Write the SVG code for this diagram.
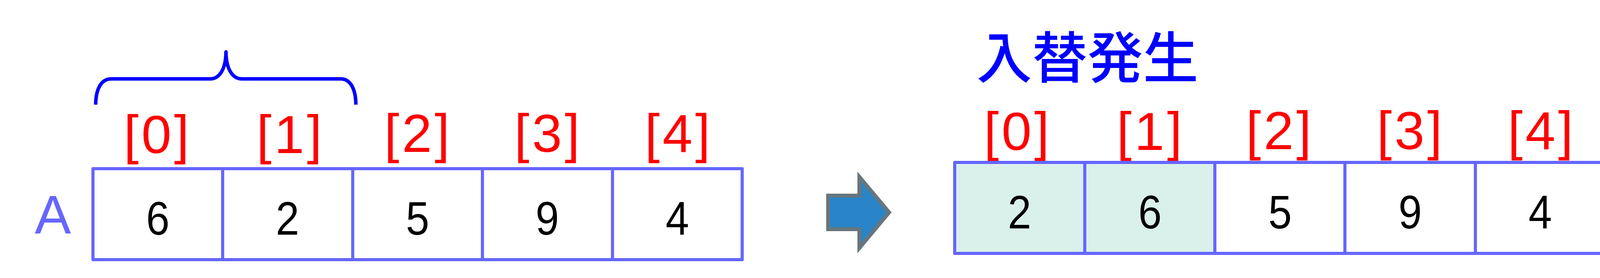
<svg xmlns="http://www.w3.org/2000/svg" width="4118" height="712" viewBox="0 0 4118 712">
<style>
.box{fill:none;stroke:#6666FF;stroke-width:8;stroke-linejoin:round}
.div{stroke:#6666FF;stroke-width:8}
.idx{font-family:"Liberation Sans",Arial,sans-serif;font-size:138px;fill:#FF0000;text-anchor:middle;letter-spacing:7px}
.num{font-family:"Liberation Sans",Arial,sans-serif;font-size:121px;fill:#000000;text-anchor:middle}
.mint{fill:#DAF0EA}
</style>
<rect width="4118" height="712" fill="#FFFFFF"/>
<g id="brace">
<path d="M245,268 C245,230 258,202 285,202 L538,202 C560,202 578,180 578.5,133 C579,180 597,202 619,202 L872,202 C898,202 911,230 911,268" fill="none" stroke="#0000FF" stroke-width="9" stroke-linejoin="round"/>
</g>
<g id="labelA">
<text x="89" y="598" font-family="'Liberation Sans',Arial,sans-serif" font-size="139" fill="#6666FF">A</text>
</g>
<g id="left-indices">
<text class="idx" x="404" y="392">[0]</text>
<text class="idx" x="744" y="392">[1]</text>
<text class="idx" x="1071" y="389">[2]</text>
<text class="idx" x="1404" y="389">[3]</text>
<text class="idx" x="1738" y="389">[4]</text>
</g>
<g id="left-array">
<rect class="box" x="238" y="432" width="1662" height="233"/>
<line class="div" x1="570" y1="432" x2="570" y2="665"/>
<line class="div" x1="903" y1="432" x2="903" y2="665"/>
<line class="div" x1="1235" y1="432" x2="1235" y2="665"/>
<line class="div" x1="1568" y1="432" x2="1568" y2="665"/>
<text class="num" x="404" y="601" textLength="60" lengthAdjust="spacingAndGlyphs">6</text>
<text class="num" x="736" y="601" textLength="60" lengthAdjust="spacingAndGlyphs">2</text>
<text class="num" x="1069" y="601" textLength="60" lengthAdjust="spacingAndGlyphs">5</text>
<text class="num" x="1401" y="601" textLength="60" lengthAdjust="spacingAndGlyphs">9</text>
<text class="num" x="1734" y="601" textLength="60" lengthAdjust="spacingAndGlyphs">4</text>
</g>
<g id="connectors">
<path d="M2120,501 L2200,501 L2200,453 L2276,544 L2200,635 L2200,587 L2120,587 Z" fill="#2985C7" stroke="#67767F" stroke-width="10"/>
</g>
<g id="title">
<text x="2500" y="200" font-family="'Noto Sans CJK JP',sans-serif" font-weight="500" font-size="142" fill="#0000FF">入替発生</text>
</g>
<g id="right-indices">
<text class="idx" x="2606" y="384">[0]</text>
<text class="idx" x="2946" y="384">[1]</text>
<text class="idx" x="3277" y="382">[2]</text>
<text class="idx" x="3612" y="382">[3]</text>
<text class="idx" x="3947" y="382">[4]</text>
</g>
<g id="right-array">
<rect class="mint" x="2444" y="416" width="666" height="233"/>
<rect class="box" x="2444" y="416" width="1665" height="233"/>
<line class="div" x1="2777" y1="416" x2="2777" y2="649"/>
<line class="div" x1="3110" y1="416" x2="3110" y2="649"/>
<line class="div" x1="3443" y1="416" x2="3443" y2="649"/>
<line class="div" x1="3777" y1="416" x2="3777" y2="649"/>
<text class="num" x="2610" y="585" textLength="60" lengthAdjust="spacingAndGlyphs">2</text>
<text class="num" x="2944" y="585" textLength="60" lengthAdjust="spacingAndGlyphs">6</text>
<text class="num" x="3277" y="585" textLength="60" lengthAdjust="spacingAndGlyphs">5</text>
<text class="num" x="3610" y="585" textLength="60" lengthAdjust="spacingAndGlyphs">9</text>
<text class="num" x="3943" y="585" textLength="60" lengthAdjust="spacingAndGlyphs">4</text>
</g>
</svg>
